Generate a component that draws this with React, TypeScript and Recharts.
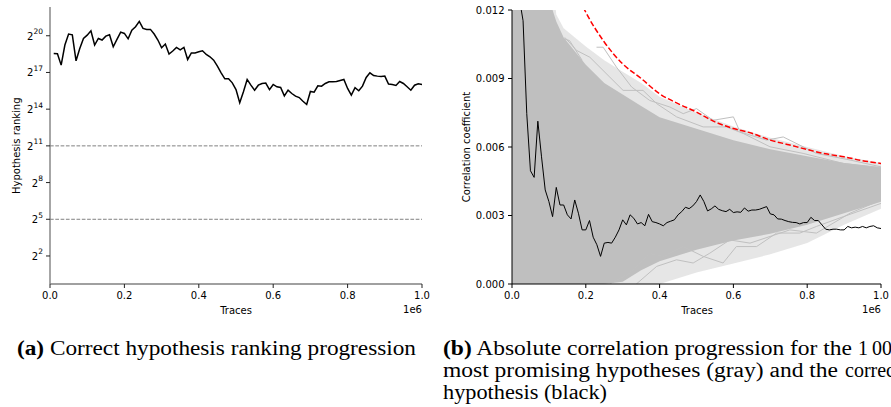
import React from 'react';
import { LineChart, ComposedChart, Line, Area, XAxis, YAxis, ReferenceLine } from 'recharts';

const FONT = 'DejaVu Sans, sans-serif';
const SERIF = 'Liberation Serif, serif';

// x positions in units of 1e6 traces, one sample every 10 000 traces
const traceSteps = Array.from({ length: 100 }, (_, i) => (i + 1) / 100);

// (a) rank of the correct hypothesis, stored as log2(rank)
const rankingLog2 = [
  18.55, 18.53, 17.6, 19.24, 20.14, 20.08, 17.95, 18.96, 19.78, 20.05,
  20.4, 19.24, 19.78, 19.65, 19.97, 20.08, 19.1, 19.7, 20.3, 20.19,
  19.75, 20.46, 20.74, 21.17, 20.6, 20.52, 20.52, 20.14, 19.65, 19.02,
  19.32, 18.5, 18.75, 19.05, 18.85, 19.05, 18.06, 18.6, 18.6, 18.69,
  18.77, 18.47, 18.28, 18.0, 17.52, 16.97, 16.48, 16.48, 16.15, 15.6,
  14.52, 15.42, 16.43, 15.96, 15.55, 15.96, 16.1, 16.13, 15.6, 16.02,
  15.83, 15.77, 15.09, 15.55, 15.28, 15.06, 14.95, 14.65, 14.38, 15.45,
  15.39, 15.91, 15.88, 16.1, 16.24, 16.24, 16.26, 16.35, 16.43, 15.69,
  15.15, 15.75, 15.5, 15.88, 16.59, 16.97, 16.75, 16.7, 16.67, 16.7,
  16.05, 16.02, 15.94, 16.26, 16.1, 15.83, 15.55, 15.96, 16.07, 16.02,
];
const rankTicks = [2, 5, 8, 11, 14, 17, 20];
const thresholds = [11, 5];

// (b) correlation of the correct hypothesis (black)
const correctCorr = [
  0.02, 0.0125, 0.01153, 0.00746, 0.00496, 0.00467, 0.00713, 0.00557, 0.00412, 0.00361,
  0.00295, 0.00423, 0.00346, 0.00346, 0.00303, 0.00285, 0.00368, 0.0031, 0.00237, 0.00237,
  0.00278, 0.00205, 0.00172, 0.00121, 0.00179, 0.00182, 0.00179, 0.00205, 0.00237, 0.00281,
  0.00259, 0.00303, 0.00288, 0.00263, 0.00269, 0.00255, 0.00305, 0.00273, 0.00269, 0.00263,
  0.00255, 0.00269, 0.00275, 0.00281, 0.00303, 0.00317, 0.00336, 0.0033, 0.00342, 0.00361,
  0.0039, 0.00361, 0.0032, 0.00329, 0.00342, 0.00327, 0.00321, 0.00317, 0.00327, 0.00313,
  0.00316, 0.00314, 0.00333, 0.00319, 0.00324, 0.00324, 0.00327, 0.00333, 0.00339, 0.00307,
  0.00303, 0.00285, 0.00284, 0.00278, 0.00273, 0.0027, 0.00269, 0.00263, 0.00269, 0.00269,
  0.00292, 0.00278, 0.00278, 0.00259, 0.0024, 0.00237, 0.0024, 0.0024, 0.00237, 0.00237,
  0.00252, 0.00246, 0.00249, 0.00246, 0.00252, 0.00246, 0.00252, 0.00255, 0.00246, 0.00243,
];

// (b) envelope of the 1000 gray hypotheses: dense core and sparse fringe
const bandT = [0, 0.05, 0.09, 0.1, 0.12, 0.14, 0.2, 0.25, 0.3, 0.35, 0.4, 0.5, 0.6, 0.7, 0.8, 0.9, 1.0];
const denseLo = [0, 0, 0, 0, 0, 0, 0, 0, 0.0001, 0.0006, 0.001, 0.0015, 0.0019, 0.0022, 0.0026, 0.0031, 0.0036];
const denseHi = [0.015, 0.015, 0.0135, 0.0125, 0.0115, 0.0108, 0.0096, 0.0088, 0.0083, 0.0078, 0.0073, 0.0068, 0.0063, 0.0059, 0.0056, 0.0053, 0.0051];
const fringeLo = [0, 0, 0, 0, 0, 0, 0, 0, 0, 0, 0, 0.0005, 0.0009, 0.0013, 0.0018, 0.0026, 0.0033];
const fringeHi = [0.015, 0.015, 0.015, 0.015, 0.0118, 0.0112, 0.0104, 0.0098, 0.0093, 0.0088, 0.0082, 0.0075, 0.0069, 0.0064, 0.006, 0.0056, 0.0053];

// a few gray traces that stick out of the bundle
const outliers: number[][][] = [
  [[0.229, 0.01037], [0.247, 0.01037], [0.283, 0.0095], [0.324, 0.00863], [0.373, 0.00804], [0.428, 0.00775], [0.464, 0.00746], [0.5, 0.00768], [0.545, 0.00717], [0.6, 0.00732], [0.618, 0.00666], [0.69, 0.0063], [0.735, 0.00644], [0.825, 0.00572], [0.916, 0.00543], [1.0, 0.00513]],
  [[0.143, 0.0108], [0.175, 0.01023], [0.211, 0.00993], [0.265, 0.00906], [0.301, 0.00848], [0.355, 0.00848], [0.392, 0.0079], [0.446, 0.00732], [0.518, 0.00688], [0.581, 0.00688], [0.627, 0.00659], [0.699, 0.00601], [0.789, 0.00572], [0.898, 0.00528], [1.0, 0.0051]],
  [[0.039, 0.0121], [0.066, 0.01153], [0.093, 0.01124], [0.111, 0.01139], [0.129, 0.0108], [0.156, 0.01066], [0.19, 0.0098]],
  [[0.265, 0], [0.319, 0.00048], [0.373, 0.00135], [0.41, 0.00121], [0.464, 0.00164], [0.518, 0.00121], [0.572, 0.00092], [0.608, 0.00164], [0.663, 0.00164], [0.717, 0.00223], [0.78, 0.00223], [0.825, 0.00252], [0.898, 0.00295], [1.0, 0.00353]],
  [[0.337, 0], [0.392, 0.00077], [0.446, 0.00106], [0.491, 0.00092], [0.536, 0.00135], [0.59, 0.00193], [0.645, 0.00179], [0.699, 0.00208], [0.753, 0.00237], [0.825, 0.00223], [0.916, 0.0031], [1.0, 0.00368]],
];

// (b) red dashed bound
const boundT = [0.15, 0.2, 0.25, 0.3, 0.35, 0.4, 0.45, 0.5, 0.55, 0.6, 0.65, 0.7, 0.75, 0.8, 0.85, 0.9, 0.95, 1.0];
const boundV = [0.0137, 0.0119, 0.0106, 0.00964, 0.009, 0.00833, 0.0079, 0.00753, 0.0071, 0.00681, 0.0066, 0.0063, 0.0061, 0.00589, 0.0057, 0.00557, 0.0054, 0.00528];

const corrTicks = [0, 0.003, 0.006, 0.009, 0.012];
const traceTicks = [0, 0.2, 0.4, 0.6, 0.8, 1.0];

const rankingData = traceSteps.map((t, i) => ({ t, rank: rankingLog2[i] }));
const correctData = traceSteps.map((t, i) => ({ t, v: correctCorr[i] }));
const bandData = bandT.map((t, i) => ({ t, dLo: denseLo[i], dHi: denseHi[i], fLo: fringeLo[i], fHi: fringeHi[i] }));
const outlierData = outliers.map((pts) => pts.map(([t, v]) => ({ t, v })));
const boundData = boundT.map((t, i) => ({ t, v: boundV[i] }));

const tickStyle = { fontSize: 10, fontFamily: FONT, fill: '#000' };

const PowerTick = (props: any) => {
  const { x, y, payload } = props;
  return (
    <text x={x} y={y + 4} textAnchor="end" fontSize={10} fontFamily={FONT} fill="#000">
      2<tspan dy={-5.5} fontSize={7.5}>{payload.value}</tspan>
    </text>
  );
};

function RankingChart() {
  return (
    <LineChart width={440} height={320} data={rankingData} margin={{ top: 7, right: 18, left: 0, bottom: 0 }}>
      <XAxis dataKey="t" type="number" domain={[0, 1]} ticks={traceTicks} tickFormatter={(v) => v.toFixed(1)}
        height={36} tickSize={4} tickMargin={3.5} tick={tickStyle}
        axisLine={{ stroke: '#808080', strokeWidth: 1.4 }} tickLine={{ stroke: '#222' }} />
      <XAxis xAxisId="top" orientation="top" type="number" domain={[0, 1]} height={0} tick={false} tickLine={false}
        axisLine={{ stroke: '#808080', strokeWidth: 1.4 }} />
      <YAxis type="number" domain={[-0.29, 22.35]} ticks={rankTicks} width={50} tickSize={4} tickMargin={3}
        tick={<PowerTick />} axisLine={{ stroke: '#808080', strokeWidth: 1.4 }} tickLine={{ stroke: '#222' }} />
      <YAxis yAxisId="right" orientation="right" type="number" domain={[0, 1]} width={0} tick={false} tickLine={false}
        axisLine={{ stroke: '#808080', strokeWidth: 1.4 }} />
      {thresholds.map((y) => (
        <ReferenceLine key={y} y={y} stroke="#808080" strokeWidth={1} strokeDasharray="3.7 1.6" />
      ))}
      <Line dataKey="rank" type="linear" stroke="#000" strokeWidth={1.5} dot={false} isAnimationActive={false} />
    </LineChart>
  );
}

function CorrelationChart() {
  return (
    <ComposedChart width={441} height={320} data={bandData} margin={{ top: 10, right: 10, left: 0, bottom: 0 }}>
      <XAxis dataKey="t" type="number" domain={[0, 1]} ticks={traceTicks} tickFormatter={(v) => v.toFixed(1)}
        height={36} tickSize={4} tickMargin={3.5} tick={tickStyle} allowDataOverflow
        axisLine={{ stroke: '#000', strokeWidth: 1 }} tickLine={{ stroke: '#000' }} />
      <XAxis xAxisId="top" orientation="top" type="number" domain={[0, 1]} height={0} tick={false} tickLine={false}
        axisLine={{ stroke: '#808080', strokeWidth: 1.4 }} />
      <YAxis type="number" domain={[0, 0.012]} ticks={corrTicks} tickFormatter={(v) => v.toFixed(3)} allowDataOverflow
        width={62} tickSize={4} tickMargin={3.5} tick={tickStyle}
        axisLine={{ stroke: '#000', strokeWidth: 1 }} tickLine={{ stroke: '#000' }} />
      <YAxis yAxisId="right" orientation="right" type="number" domain={[0, 1]} width={0} tick={false} tickLine={false}
        axisLine={{ stroke: '#808080', strokeWidth: 1.4 }} />
      <Area dataKey={(d: any) => [d.fLo, d.fHi]} type="linear" stroke="none" fill="#c0c0c0" fillOpacity={0.4}
        isAnimationActive={false} />
      <Area dataKey={(d: any) => [d.dLo, d.dHi]} type="linear" stroke="none" fill="#bfbfbf" fillOpacity={1}
        isAnimationActive={false} />
      {outlierData.map((d, i) => (
        <Line key={i} data={d} dataKey="v" type="linear" stroke="#c0c0c0" strokeWidth={1} dot={false}
          isAnimationActive={false} />
      ))}
      <Line data={boundData} dataKey="v" type="monotone" stroke="#ff0000" strokeWidth={1.5} strokeDasharray="5.5 2.4"
        dot={false} isAnimationActive={false} />
      <Line data={correctData} dataKey="v" type="linear" stroke="#000" strokeWidth={1} dot={false}
        isAnimationActive={false} />
    </ComposedChart>
  );
}

export default function App() {
  return (
    <div style={{ position: 'absolute', left: 0, top: 0, width: 891, height: 407, overflow: 'hidden', background: '#fff' }}>
      <div style={{ position: 'absolute', left: 0, top: 0 }}>
        <RankingChart />
      </div>
      <div style={{ position: 'absolute', left: 450, top: 0 }}>
        <CorrelationChart />
      </div>
      <svg width={891} height={407} style={{ position: 'absolute', left: 0, top: 0, pointerEvents: 'none' }}>
        <g fontFamily={FONT} fontSize={10} fill="#000">
          <text x={17} y={145.7} textAnchor="middle" dominantBaseline="central" transform="rotate(-90 17 145.7)">
            Hypothesis ranking
          </text>
          <text x={236} y={313.5} textAnchor="middle">Traces</text>
          <text x={422} y={313} textAnchor="end">1e6</text>
          <text x={466} y={147} textAnchor="middle" dominantBaseline="central" transform="rotate(-90 466 147)">
            Correlation coefficient
          </text>
          <text x={697} y={313.5} textAnchor="middle">Traces</text>
          <text x={881} y={313} textAnchor="end">1e6</text>
        </g>
        <g fontFamily={SERIF} fontSize={20} fill="#000">
          <text x={17} y={355} textLength={399} lengthAdjust="spacingAndGlyphs">
            <tspan fontWeight="bold">(a)</tspan> Correct hypothesis ranking progression
          </text>
          <text x={443} y={355} textLength={409} lengthAdjust="spacingAndGlyphs">
            <tspan fontWeight="bold">(b)</tspan> Absolute correlation progression for the
          </text>
          <text x={858} y={355}>1{'\u2009'}000</text>
          <text x={443} y={377} textLength={395} lengthAdjust="spacingAndGlyphs">
            most promising hypotheses (gray) and the
          </text>
          <text x={845} y={377}>correct</text>
          <text x={443} y={399} textLength={164} lengthAdjust="spacingAndGlyphs">
            hypothesis (black)
          </text>
        </g>
      </svg>
    </div>
  );
}
